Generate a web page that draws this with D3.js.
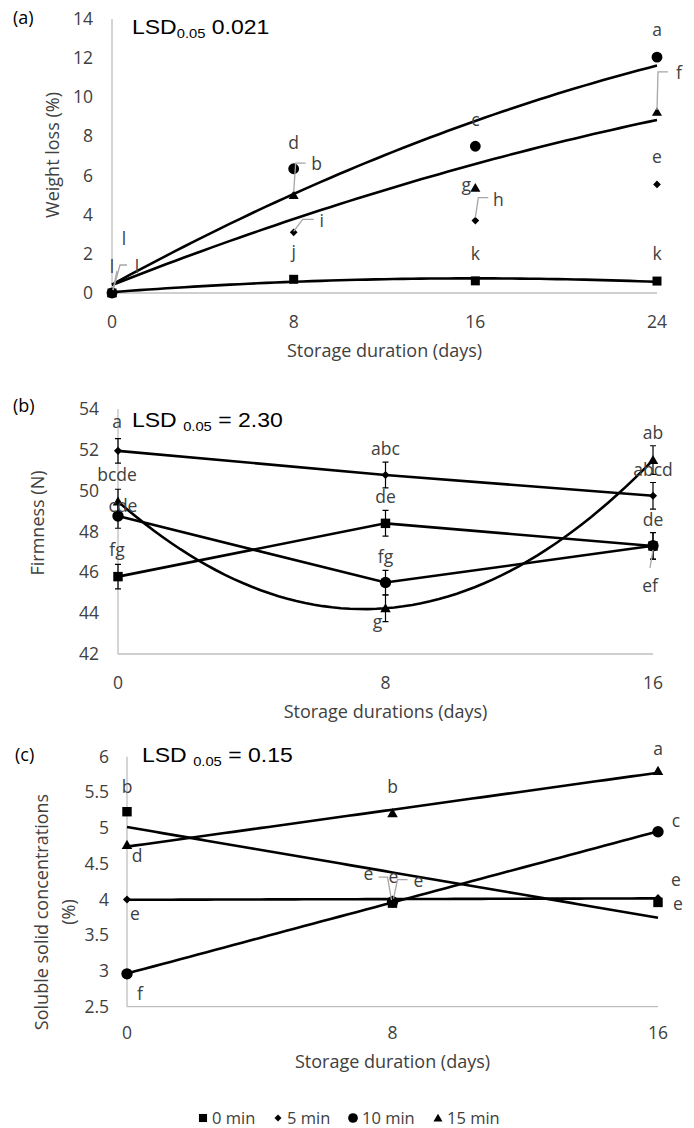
<!DOCTYPE html>
<html><head><meta charset="utf-8">
<script src="https://cdn.jsdelivr.net/npm/d3@7"></script>
<style>body{margin:0;background:#fff}svg{display:block}</style>
</head><body>
<script>
// ---------------- DATA ----------------
const seriesNames = ["0 min", "5 min", "10 min", "15 min"];

// (a) Weight loss (%)
const daysA = [0, 8, 16, 24];
const weightLoss0 = [0, 0.70, 0.62, 0.61];
const weightLoss5 = [0, 3.10, 3.70, 5.55];
const weightLoss10 = [0, 6.35, 7.50, 12.05];
const weightLoss15 = [0, 5.00, 5.37, 9.25];
const lettersA0 = ["l", "j", "k", "k"];
const lettersA5 = ["l", "i", "h", "e"];
const lettersA10 = ["l", "d", "c", "a"];
const lettersA15 = ["l", "b", "g", "f"];
const yTicksA = [0, 2, 4, 6, 8, 10, 12, 14];

// (b) Firmness (N)
const daysB = [0, 8, 16];
const firmness0 = [45.79, 48.40, 47.29];
const firmness5 = [51.95, 50.77, 49.75];
const firmness10 = [48.76, 45.50, 47.30];
const firmness15 = [49.47, 44.24, 51.50];
const firmnessErr0 = [0.60, 0.63, 0.65];
const firmnessErr5 = [0.60, 0.63, 0.65];
const firmnessErr10 = [0.60, 0.60, 0.65];
const firmnessErr15 = [0.60, 0.65, 0.70];
const lettersB0 = ["fg", "de", "de"];
const lettersB5 = ["a", "abc", "abcd"];
const lettersB10 = ["cde", "fg", "ef"];
const lettersB15 = ["bcde", "g", "ab"];
const yTicksB = [42, 44, 46, 48, 50, 52, 54];

// (c) Soluble solid concentrations (%)
const daysC = [0, 8, 16];
const ssc0 = [5.23, 3.95, 3.96];
const ssc5 = [4.00, 4.00, 4.02];
const ssc10 = [2.96, 3.97, 4.95];
const ssc15 = [4.765, 5.21, 5.80];
const lettersC0 = ["b", "e", "e"];
const lettersC5 = ["e", "e", "e"];
const lettersC10 = ["f", "e", "c"];
const lettersC15 = ["d", "b", "a"];
const yTicksC = [2.5, 3, 3.5, 4, 4.5, 5, 5.5, 6];

// ---------------- HELPERS ----------------
const W = 694, H = 1128;
const FONT = "'Open Sans', sans-serif";
const ARIAL = "'Liberation Sans', Arial, sans-serif";
const TXT = "#404040";
const AXIS = "#bfbfbf";
const LEADER = "#a6a6a6";
const FS = 17.5, FST = 18;

const svg = d3.select("body").append("svg").attr("width", W).attr("height", H);
svg.append("rect").attr("width", W).attr("height", H).attr("fill", "#fff");

function polyFit(xs, ys, order) {
  const n = order + 1;
  const A = Array.from({length: n}, () => new Array(n + 1).fill(0));
  for (let r = 0; r < n; r++) {
    for (let c = 0; c < n; c++) A[r][c] = d3.sum(xs, x => Math.pow(x, r + c));
    A[r][n] = d3.sum(xs.map((x, i) => Math.pow(x, r) * ys[i]));
  }
  for (let i = 0; i < n; i++) {
    let p = i;
    for (let k = i + 1; k < n; k++) if (Math.abs(A[k][i]) > Math.abs(A[p][i])) p = k;
    [A[i], A[p]] = [A[p], A[i]];
    for (let k = i + 1; k < n; k++) {
      const f = A[k][i] / A[i][i];
      for (let j = i; j <= n; j++) A[k][j] -= f * A[i][j];
    }
  }
  const coef = new Array(n).fill(0);
  for (let i = n - 1; i >= 0; i--) {
    let s = A[i][n];
    for (let j = i + 1; j < n; j++) s -= A[i][j] * coef[j];
    coef[i] = s / A[i][i];
  }
  return x => coef.reduce((acc, c, i) => acc + c * Math.pow(x, i), 0);
}

function marker(g, kind, cx, cy, scale) {
  const s = scale || 1;
  if (kind === 0) {
    g.append("path").attr("d", d3.symbol(d3.symbolSquare, 81 * s * s)())
      .attr("transform", `translate(${cx},${cy})`).attr("fill", "#000");
  } else if (kind === 1) {
    g.append("path").attr("d", d3.symbol(d3.symbolSquare, 30 * s * s)())
      .attr("transform", `translate(${cx},${cy}) rotate(45)`).attr("fill", "#000");
  } else if (kind === 2) {
    g.append("path").attr("d", d3.symbol(d3.symbolCircle, 92 * s * s)())
      .attr("transform", `translate(${cx},${cy})`).attr("fill", "#000");
  } else {
    g.append("path").attr("d", d3.symbol(d3.symbolTriangle, 44 * s * s)())
      .attr("transform", `translate(${cx},${cy + 1})`).attr("fill", "#000");
  }
}

function drawAxes(g, x, y, xTicks, yTicks, opt) {
  const [x0, x1] = x.range();
  const [y0, y1] = y.range();
  g.append("line").attr("x1", x0).attr("x2", x0).attr("y1", y0).attr("y2", y1)
    .attr("stroke", AXIS).attr("stroke-width", 1.3);
  g.append("line").attr("x1", x0).attr("x2", x1).attr("y1", y0).attr("y2", y0)
    .attr("stroke", AXIS).attr("stroke-width", 1.3);
  g.selectAll(null).data(yTicks).join("text")
    .attr("x", opt.yTickRight).attr("y", d => y(d) + 6)
    .attr("text-anchor", "end").attr("font-family", FONT).attr("font-size", FS)
    .attr("fill", TXT).text(d => d);
  g.selectAll(null).data(xTicks).join("text")
    .attr("x", d => x(d)).attr("y", opt.xTickBase)
    .attr("text-anchor", "middle").attr("font-family", FONT).attr("font-size", FS)
    .attr("fill", TXT).text(d => d);
  g.append("text").attr("x", (x0 + x1) / 2).attr("y", opt.xTitleBase)
    .attr("text-anchor", "middle").attr("font-family", FONT).attr("font-size", FST)
    .attr("fill", TXT).text(opt.xTitle);
  const yc = opt.yTitleCenter;
  opt.yTitle.forEach((t, i) => {
    g.append("text").attr("transform", `translate(${opt.yTitleX[i]},${yc}) rotate(-90)`)
      .attr("text-anchor", "middle").attr("font-family", FONT).attr("font-size", FST)
      .attr("fill", TXT).text(t);
  });
  g.append("text").attr("x", opt.tag[0]).attr("y", opt.tag[1])
    .attr("font-family", FONT).attr("font-size", FST).attr("fill", "#000").text(opt.tagText);
  const lsd = g.append("text").attr("transform", `translate(${opt.lsd[0]},${opt.lsd[1]}) scale(1.18,1)`)
    .attr("font-family", ARIAL).attr("font-size", 19.5).attr("fill", "#000");
  lsd.append("tspan").text(opt.lsdParts[0]);
  lsd.append("tspan").attr("font-size", 12.5).attr("dy", 4).text(opt.lsdParts[1]);
  lsd.append("tspan").attr("dy", -4).text(opt.lsdParts[2]);
}

function drawLabels(g, x, y, days, vals, letters, offs) {
  days.forEach((d, i) => {
    const o = offs[i];
    if (!o) return;
    const px = x(d), py = y(vals[i]);
    if (o.leader) {
      g.append("polyline")
        .attr("points", o.leader.map(p => [px + p[0], py + p[1]].join(",")).join(" "))
        .attr("fill", "none").attr("stroke", LEADER).attr("stroke-width", 1.3);
    }
    g.append("text").attr("x", px + o.dx).attr("y", py + o.dy)
      .attr("text-anchor", "middle").attr("font-family", FONT).attr("font-size", FS)
      .attr("fill", TXT).text(letters[i]);
  });
}

function lineSampled(fn, x, y, d0, d1) {
  const pts = d3.range(0, 61).map(i => d0 + (d1 - d0) * i / 60);
  return d3.line().x(d => x(d)).y(d => y(fn(d)))(pts);
}

// ---------------- PANEL (a) ----------------
{
  const g = svg.append("g");
  const x = d3.scaleLinear().domain([0, 24]).range([112, 657]);
  const y = d3.scaleLinear().domain([0, 14]).range([293, 19]);
  drawAxes(g, x, y, daysA, yTicksA, {
    yTickRight: 93, xTickBase: 328, xTitleBase: 357, xTitle: "Storage duration (days)",
    yTitle: ["Weight loss (%)"], yTitleX: [59], yTitleCenter: 155,
    tag: [13, 24], tagText: "(a)", lsd: [132, 34], lsdParts: ["LSD", "0.05", " 0.021"]
  });
  // polynomial (order 2) trendlines
  [weightLoss0, weightLoss10, weightLoss15].forEach(vals => {
    const f = polyFit(daysA, vals, 2);
    g.append("path").attr("d", lineSampled(f, x, y, 0, 24))
      .attr("fill", "none").attr("stroke", "#000").attr("stroke-width", 2.6);
  });
  const all = [weightLoss0, weightLoss5, weightLoss10, weightLoss15];
  [3, 2, 1, 0].forEach(k => daysA.forEach((d, i) => marker(g, k, x(d), y(all[k][i]), 1)));

  drawLabels(g, x, y, daysA, weightLoss0, lettersA0, [
    {dx: 0, dy: -20, leader: [[1, -3], [5, -22]]}, {dx: 0, dy: -21}, {dx: 0, dy: -21}, {dx: 0, dy: -21}]);
  drawLabels(g, x, y, daysA, weightLoss5, lettersA5, [
    {dx: 25, dy: -20}, {dx: 28, dy: -5, leader: [[0, -1], [9, -13], [20, -13]]},
    {dx: 23, dy: -15, leader: [[0, -3], [3, -23], [13, -23]]}, {dx: 0, dy: -21}]);
  drawLabels(g, x, y, daysA, weightLoss10, lettersA10, [
    {dx: 12, dy: -48, leader: [[1, -3], [8, -28], [15, -28]]}, {dx: 0, dy: -19.5}, {dx: 0, dy: -20}, {dx: 0, dy: -21}]);
  drawLabels(g, x, y, daysA, weightLoss15, lettersA15, [
    null, {dx: 23, dy: -25, leader: [[0, -3], [2, -32], [12, -32]]},
    {dx: -9, dy: 3}, {dx: 22, dy: -33, leader: [[0, -2], [1, -40], [11, -40]]}]);
}

// ---------------- PANEL (b) ----------------
{
  const g = svg.append("g");
  const x = d3.scaleLinear().domain([0, 16]).range([118, 653]);
  const y = d3.scaleLinear().domain([42, 54]).range([654, 409]);
  drawAxes(g, x, y, daysB, yTicksB, {
    yTickRight: 99, xTickBase: 689, xTitleBase: 718, xTitle: "Storage durations (days)",
    yTitle: ["Firmness (N)"], yTitleX: [44], yTitleCenter: 523,
    tag: [13, 412], tagText: "(b)", lsd: [132, 427], lsdParts: ["LSD ", "0.05", " = 2.30"]
  });
  const all = [firmness0, firmness5, firmness10, firmness15];
  const errs = [firmnessErr0, firmnessErr5, firmnessErr10, firmnessErr15];
  // error bars
  all.forEach((vals, k) => daysB.forEach((d, i) => {
    const px = x(d), top = y(vals[i] + errs[k][i]), bot = y(vals[i] - errs[k][i]);
    g.append("path").attr("d", `M${px},${top}V${bot}M${px - 3},${top}H${px + 3}M${px - 3},${bot}H${px + 3}`)
      .attr("stroke", "#000").attr("stroke-width", 1.2).attr("fill", "none");
  }));
  // straight lines for 0, 5, 10 min
  [firmness0, firmness5, firmness10].forEach(vals => {
    g.append("path").attr("d", d3.line().x((v, i) => x(daysB[i])).y(v => y(v))(vals))
      .attr("fill", "none").attr("stroke", "#000").attr("stroke-width", 2.6);
  });
  // polynomial trend for 15 min
  const f15 = polyFit(daysB, firmness15, 2);
  g.append("path").attr("d", lineSampled(f15, x, y, 0, 16))
    .attr("fill", "none").attr("stroke", "#000").attr("stroke-width", 2.6);
  [0, 1, 2, 3].forEach(k => daysB.forEach((d, i) => marker(g, k, x(d), y(all[k][i]), 1.05)));

  drawLabels(g, x, y, daysB, firmness0, lettersB0, [{dx: -1, dy: -21}, {dx: 0, dy: -20}, {dx: 0, dy: -20}]);
  drawLabels(g, x, y, daysB, firmness5, lettersB5, [{dx: -1, dy: -23}, {dx: 0, dy: -20}, {dx: 0, dy: -20}]);
  drawLabels(g, x, y, daysB, firmness10, lettersB10, [{dx: 5, dy: -4}, {dx: 0, dy: -20},
    {dx: -3, dy: 46, leader: [[0, 4], [-3, 22]]}]);
  drawLabels(g, x, y, daysB, firmness15, lettersB15, [{dx: -1, dy: -20}, {dx: -8, dy: 20}, {dx: 0, dy: -21}]);
}

// ---------------- PANEL (c) ----------------
{
  const g = svg.append("g");
  const x = d3.scaleLinear().domain([0, 16]).range([127, 658]);
  const y = d3.scaleLinear().domain([2.5, 6]).range([1006.7, 756.7]);
  drawAxes(g, x, y, daysC, yTicksC, {
    yTickRight: 109, xTickBase: 1039, xTitleBase: 1068, xTitle: "Storage duration (days)",
    yTitle: ["Soluble solid concentrations", "(%)"], yTitleX: [48, 75], yTitleCenter: 912,
    tag: [15, 761], tagText: "(c)", lsd: [142, 762], lsdParts: ["LSD ", "0.05", " = 0.15"]
  });
  const all = [ssc0, ssc5, ssc10, ssc15];
  // linear trendlines
  all.forEach(vals => {
    const f = polyFit(daysC, vals, 1);
    g.append("path").attr("d", lineSampled(f, x, y, 0, 16))
      .attr("fill", "none").attr("stroke", "#000").attr("stroke-width", 2.6);
  });
  [1, 2, 3, 0].forEach(k => daysC.forEach((d, i) => marker(g, k, x(d), y(all[k][i]), 1.05)));

  drawLabels(g, x, y, daysC, ssc0, lettersC0, [{dx: 0, dy: -19},
    {dx: -24, dy: -23, leader: [[-1, -3], [-5, -26], [-14, -26]]}, {dx: 20, dy: 8}]);
  drawLabels(g, x, y, daysC, ssc5, lettersC5, [{dx: 8, dy: 20}, {dx: 1, dy: -17}, {dx: 18, dy: -12}]);
  drawLabels(g, x, y, daysC, ssc10, lettersC10, [{dx: 13, dy: 26},
    {dx: 26, dy: -15, leader: [[1, -3], [5, -22], [15, -22]]}, {dx: 18, dy: -5}]);
  drawLabels(g, x, y, daysC, ssc15, lettersC15, [{dx: 10, dy: 17}, {dx: 0, dy: -20}, {dx: 0, dy: -16}]);
}

// ---------------- LEGEND ----------------
{
  const g = svg.append("g");
  const legendX = [203, 278, 353, 438];
  const ly = 1118;
  seriesNames.forEach((name, k) => {
    const px = legendX[k];
    marker(g, k, px, ly, 0.9);
    g.append("text").attr("x", px + 9).attr("y", ly + 6)
      .attr("font-family", FONT).attr("font-size", 16.5).attr("fill", TXT).text(name);
  });
}
</script>
</body></html>
